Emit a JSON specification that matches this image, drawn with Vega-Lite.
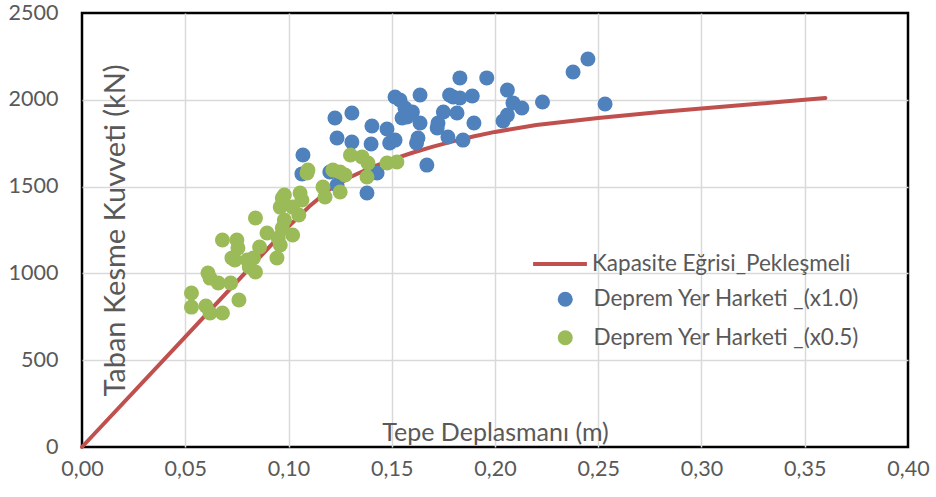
{
  "$schema": "https://vega.github.io/schema/vega-lite/v6.json",
  "width": 826,
  "height": 434,
  "autosize": {"type": "none"},
  "padding": {"left": 82, "top": 13, "right": 28, "bottom": 50},
  "config": {
    "locale": {"number": {"decimal": ",", "thousands": ".", "grouping": [3], "currency": ["", " ₺"]}},
    "font": "Lato",
    "view": {"stroke": "#000000", "strokeWidth": 2.5},
    "axis": {
      "grid": true,
      "gridColor": "#D9D9D9",
      "gridWidth": 1.5,
      "domain": false,
      "ticks": false,
      "labelFlush": false,
      "labelColor": "#595959",
      "labelFontSize": 21.5,
      "labelFont": "Lato",
      "titleColor": "#595959",
      "titleFont": "Lato",
      "titleFontWeight": "normal"
    },
    "legend": {"labelFont": "Lato", "labelColor": "#595959", "labelFontSize": 22.5, "labelLimit": 400, "padding": 0}
  },
  "datasets": {
    "kapasite": [
      {"d": 0.0, "v": 0},
      {"d": 0.05, "v": 635},
      {"d": 0.10, "v": 1270},
      {"d": 0.11, "v": 1385},
      {"d": 0.12, "v": 1485},
      {"d": 0.13, "v": 1555},
      {"d": 0.14, "v": 1610},
      {"d": 0.15, "v": 1655},
      {"d": 0.16, "v": 1695},
      {"d": 0.17, "v": 1730},
      {"d": 0.18, "v": 1762},
      {"d": 0.19, "v": 1790},
      {"d": 0.20, "v": 1815},
      {"d": 0.22, "v": 1855},
      {"d": 0.25, "v": 1895},
      {"d": 0.28, "v": 1930},
      {"d": 0.31, "v": 1960},
      {"d": 0.34, "v": 1990},
      {"d": 0.36, "v": 2010}
    ],
    "deprem": [
      {"seri": "Deprem Yer Harketi _(x1.0)", "d": 0.1065, "v": 1573},
      {"seri": "Deprem Yer Harketi _(x1.0)", "d": 0.107, "v": 1682},
      {"seri": "Deprem Yer Harketi _(x1.0)", "d": 0.120, "v": 1584},
      {"seri": "Deprem Yer Harketi _(x1.0)", "d": 0.1225, "v": 1895},
      {"seri": "Deprem Yer Harketi _(x1.0)", "d": 0.1235, "v": 1780},
      {"seri": "Deprem Yer Harketi _(x1.0)", "d": 0.1235, "v": 1509},
      {"seri": "Deprem Yer Harketi _(x1.0)", "d": 0.1307, "v": 1924},
      {"seri": "Deprem Yer Harketi _(x1.0)", "d": 0.1307, "v": 1757},
      {"seri": "Deprem Yer Harketi _(x1.0)", "d": 0.138, "v": 1463},
      {"seri": "Deprem Yer Harketi _(x1.0)", "d": 0.140, "v": 1745},
      {"seri": "Deprem Yer Harketi _(x1.0)", "d": 0.1404, "v": 1849},
      {"seri": "Deprem Yer Harketi _(x1.0)", "d": 0.1429, "v": 1578},
      {"seri": "Deprem Yer Harketi _(x1.0)", "d": 0.1477, "v": 1832},
      {"seri": "Deprem Yer Harketi _(x1.0)", "d": 0.149, "v": 1751},
      {"seri": "Deprem Yer Harketi _(x1.0)", "d": 0.1516, "v": 2016},
      {"seri": "Deprem Yer Harketi _(x1.0)", "d": 0.1516, "v": 1768},
      {"seri": "Deprem Yer Harketi _(x1.0)", "d": 0.154, "v": 1999},
      {"seri": "Deprem Yer Harketi _(x1.0)", "d": 0.155, "v": 1895},
      {"seri": "Deprem Yer Harketi _(x1.0)", "d": 0.1564, "v": 1953},
      {"seri": "Deprem Yer Harketi _(x1.0)", "d": 0.1574, "v": 1901},
      {"seri": "Deprem Yer Harketi _(x1.0)", "d": 0.160, "v": 1930},
      {"seri": "Deprem Yer Harketi _(x1.0)", "d": 0.162, "v": 1751},
      {"seri": "Deprem Yer Harketi _(x1.0)", "d": 0.1627, "v": 1780},
      {"seri": "Deprem Yer Harketi _(x1.0)", "d": 0.1637, "v": 2028},
      {"seri": "Deprem Yer Harketi _(x1.0)", "d": 0.1637, "v": 1866},
      {"seri": "Deprem Yer Harketi _(x1.0)", "d": 0.167, "v": 1624},
      {"seri": "Deprem Yer Harketi _(x1.0)", "d": 0.172, "v": 1838},
      {"seri": "Deprem Yer Harketi _(x1.0)", "d": 0.1724, "v": 1866},
      {"seri": "Deprem Yer Harketi _(x1.0)", "d": 0.175, "v": 1930},
      {"seri": "Deprem Yer Harketi _(x1.0)", "d": 0.1772, "v": 1786},
      {"seri": "Deprem Yer Harketi _(x1.0)", "d": 0.178, "v": 2028},
      {"seri": "Deprem Yer Harketi _(x1.0)", "d": 0.1797, "v": 2016},
      {"seri": "Deprem Yer Harketi _(x1.0)", "d": 0.1816, "v": 1924},
      {"seri": "Deprem Yer Harketi _(x1.0)", "d": 0.183, "v": 2126},
      {"seri": "Deprem Yer Harketi _(x1.0)", "d": 0.183, "v": 2010},
      {"seri": "Deprem Yer Harketi _(x1.0)", "d": 0.1845, "v": 1768},
      {"seri": "Deprem Yer Harketi _(x1.0)", "d": 0.189, "v": 2022},
      {"seri": "Deprem Yer Harketi _(x1.0)", "d": 0.1898, "v": 1866},
      {"seri": "Deprem Yer Harketi _(x1.0)", "d": 0.196, "v": 2126},
      {"seri": "Deprem Yer Harketi _(x1.0)", "d": 0.2039, "v": 1878},
      {"seri": "Deprem Yer Harketi _(x1.0)", "d": 0.206, "v": 2056},
      {"seri": "Deprem Yer Harketi _(x1.0)", "d": 0.206, "v": 1912},
      {"seri": "Deprem Yer Harketi _(x1.0)", "d": 0.2087, "v": 1982},
      {"seri": "Deprem Yer Harketi _(x1.0)", "d": 0.213, "v": 1953},
      {"seri": "Deprem Yer Harketi _(x1.0)", "d": 0.223, "v": 1987},
      {"seri": "Deprem Yer Harketi _(x1.0)", "d": 0.2378, "v": 2160},
      {"seri": "Deprem Yer Harketi _(x1.0)", "d": 0.245, "v": 2235},
      {"seri": "Deprem Yer Harketi _(x1.0)", "d": 0.2533, "v": 1976},
      {"seri": "Deprem Yer Harketi _(x0.5)", "d": 0.053, "v": 887},
      {"seri": "Deprem Yer Harketi _(x0.5)", "d": 0.053, "v": 806},
      {"seri": "Deprem Yer Harketi _(x0.5)", "d": 0.060, "v": 812},
      {"seri": "Deprem Yer Harketi _(x0.5)", "d": 0.061, "v": 1002},
      {"seri": "Deprem Yer Harketi _(x0.5)", "d": 0.062, "v": 973},
      {"seri": "Deprem Yer Harketi _(x0.5)", "d": 0.062, "v": 772},
      {"seri": "Deprem Yer Harketi _(x0.5)", "d": 0.066, "v": 945},
      {"seri": "Deprem Yer Harketi _(x0.5)", "d": 0.068, "v": 772},
      {"seri": "Deprem Yer Harketi _(x0.5)", "d": 0.068, "v": 1192},
      {"seri": "Deprem Yer Harketi _(x0.5)", "d": 0.072, "v": 945},
      {"seri": "Deprem Yer Harketi _(x0.5)", "d": 0.075, "v": 1192},
      {"seri": "Deprem Yer Harketi _(x0.5)", "d": 0.0755, "v": 1146},
      {"seri": "Deprem Yer Harketi _(x0.5)", "d": 0.074, "v": 1077},
      {"seri": "Deprem Yer Harketi _(x0.5)", "d": 0.0726, "v": 1089},
      {"seri": "Deprem Yer Harketi _(x0.5)", "d": 0.076, "v": 847},
      {"seri": "Deprem Yer Harketi _(x0.5)", "d": 0.080, "v": 1077},
      {"seri": "Deprem Yer Harketi _(x0.5)", "d": 0.083, "v": 1089},
      {"seri": "Deprem Yer Harketi _(x0.5)", "d": 0.081, "v": 1037},
      {"seri": "Deprem Yer Harketi _(x0.5)", "d": 0.084, "v": 1008},
      {"seri": "Deprem Yer Harketi _(x0.5)", "d": 0.084, "v": 1319},
      {"seri": "Deprem Yer Harketi _(x0.5)", "d": 0.086, "v": 1152},
      {"seri": "Deprem Yer Harketi _(x0.5)", "d": 0.0896, "v": 1233},
      {"seri": "Deprem Yer Harketi _(x0.5)", "d": 0.095, "v": 1204},
      {"seri": "Deprem Yer Harketi _(x0.5)", "d": 0.0944, "v": 1089},
      {"seri": "Deprem Yer Harketi _(x0.5)", "d": 0.096, "v": 1164},
      {"seri": "Deprem Yer Harketi _(x0.5)", "d": 0.097, "v": 1261},
      {"seri": "Deprem Yer Harketi _(x0.5)", "d": 0.098, "v": 1308},
      {"seri": "Deprem Yer Harketi _(x0.5)", "d": 0.096, "v": 1382},
      {"seri": "Deprem Yer Harketi _(x0.5)", "d": 0.098, "v": 1452},
      {"seri": "Deprem Yer Harketi _(x0.5)", "d": 0.097, "v": 1434},
      {"seri": "Deprem Yer Harketi _(x0.5)", "d": 0.102, "v": 1382},
      {"seri": "Deprem Yer Harketi _(x0.5)", "d": 0.102, "v": 1221},
      {"seri": "Deprem Yer Harketi _(x0.5)", "d": 0.105, "v": 1336},
      {"seri": "Deprem Yer Harketi _(x0.5)", "d": 0.1056, "v": 1463},
      {"seri": "Deprem Yer Harketi _(x0.5)", "d": 0.1065, "v": 1423},
      {"seri": "Deprem Yer Harketi _(x0.5)", "d": 0.109, "v": 1578},
      {"seri": "Deprem Yer Harketi _(x0.5)", "d": 0.1094, "v": 1596},
      {"seri": "Deprem Yer Harketi _(x0.5)", "d": 0.1167, "v": 1498},
      {"seri": "Deprem Yer Harketi _(x0.5)", "d": 0.1177, "v": 1440},
      {"seri": "Deprem Yer Harketi _(x0.5)", "d": 0.125, "v": 1469},
      {"seri": "Deprem Yer Harketi _(x0.5)", "d": 0.1215, "v": 1596},
      {"seri": "Deprem Yer Harketi _(x0.5)", "d": 0.125, "v": 1584},
      {"seri": "Deprem Yer Harketi _(x0.5)", "d": 0.1274, "v": 1567},
      {"seri": "Deprem Yer Harketi _(x0.5)", "d": 0.130, "v": 1682},
      {"seri": "Deprem Yer Harketi _(x0.5)", "d": 0.1356, "v": 1671},
      {"seri": "Deprem Yer Harketi _(x0.5)", "d": 0.1385, "v": 1636},
      {"seri": "Deprem Yer Harketi _(x0.5)", "d": 0.138, "v": 1555},
      {"seri": "Deprem Yer Harketi _(x0.5)", "d": 0.1477, "v": 1636},
      {"seri": "Deprem Yer Harketi _(x0.5)", "d": 0.1525, "v": 1642}
    ]
  },
  "encoding": {
    "x": {
      "field": "d",
      "type": "quantitative",
      "scale": {"domain": [0, 0.4], "nice": false, "zero": false},
      "axis": {
        "values": [0, 0.05, 0.1, 0.15, 0.2, 0.25, 0.3, 0.35, 0.4],
        "format": ".2f",
        "labelPadding": 11,
        "title": "Tepe Deplasmanı (m)",
        "titleFontSize": 25,
        "titleX": 413,
        "titleY": -2,
        "titleAlign": "center",
        "titleBaseline": "bottom",
        "gridOpacity": {"condition": {"test": "datum.value <= 0 || datum.value >= 0.4", "value": 0}, "value": 1}
      }
    },
    "y": {
      "field": "v",
      "type": "quantitative",
      "scale": {"domain": [0, 2500], "nice": false},
      "axis": {
        "values": [0, 500, 1000, 1500, 2000, 2500],
        "format": "d",
        "labelPadding": 24,
        "title": "Taban Kesme Kuvveti (kN)",
        "titleFontSize": 29,
        "titleAngle": -90,
        "titleX": 33,
        "titleY": 217,
        "titleAlign": "center",
        "titleBaseline": "middle",
        "gridOpacity": {"condition": {"test": "datum.value <= 0 || datum.value >= 2500", "value": 0}, "value": 1}
      }
    }
  },
  "layer": [
    {
      "data": {"name": "kapasite"},
      "mark": {"type": "line", "strokeWidth": 4, "strokeCap": "round", "strokeJoin": "round"},
      "encoding": {
        "stroke": {
          "datum": "Kapasite Eğrisi_Pekleşmeli",
          "type": "nominal",
          "scale": {"range": ["#C0504D"]},
          "legend": {
            "orient": "none",
            "legendX": 449,
            "legendY": 222,
            "title": null,
            "symbolType": "stroke",
            "symbolSize": 2900,
            "symbolStrokeWidth": 4,
            "labelOffset": 3
          }
        }
      }
    },
    {
      "data": {"name": "deprem"},
      "mark": {"type": "circle", "size": 225, "opacity": 1},
      "encoding": {
        "fill": {
          "field": "seri",
          "type": "nominal",
          "scale": {
            "domain": ["Deprem Yer Harketi _(x1.0)", "Deprem Yer Harketi _(x0.5)"],
            "range": ["#4F81BD", "#9BBB59"]
          },
          "legend": {
            "orient": "none",
            "legendX": 472,
            "legendY": 275,
            "title": null,
            "symbolType": "circle",
            "symbolSize": 225,
            "symbolOpacity": 1,
            "labelOffset": 17,
            "rowPadding": 15.5
          }
        }
      }
    }
  ]
}
